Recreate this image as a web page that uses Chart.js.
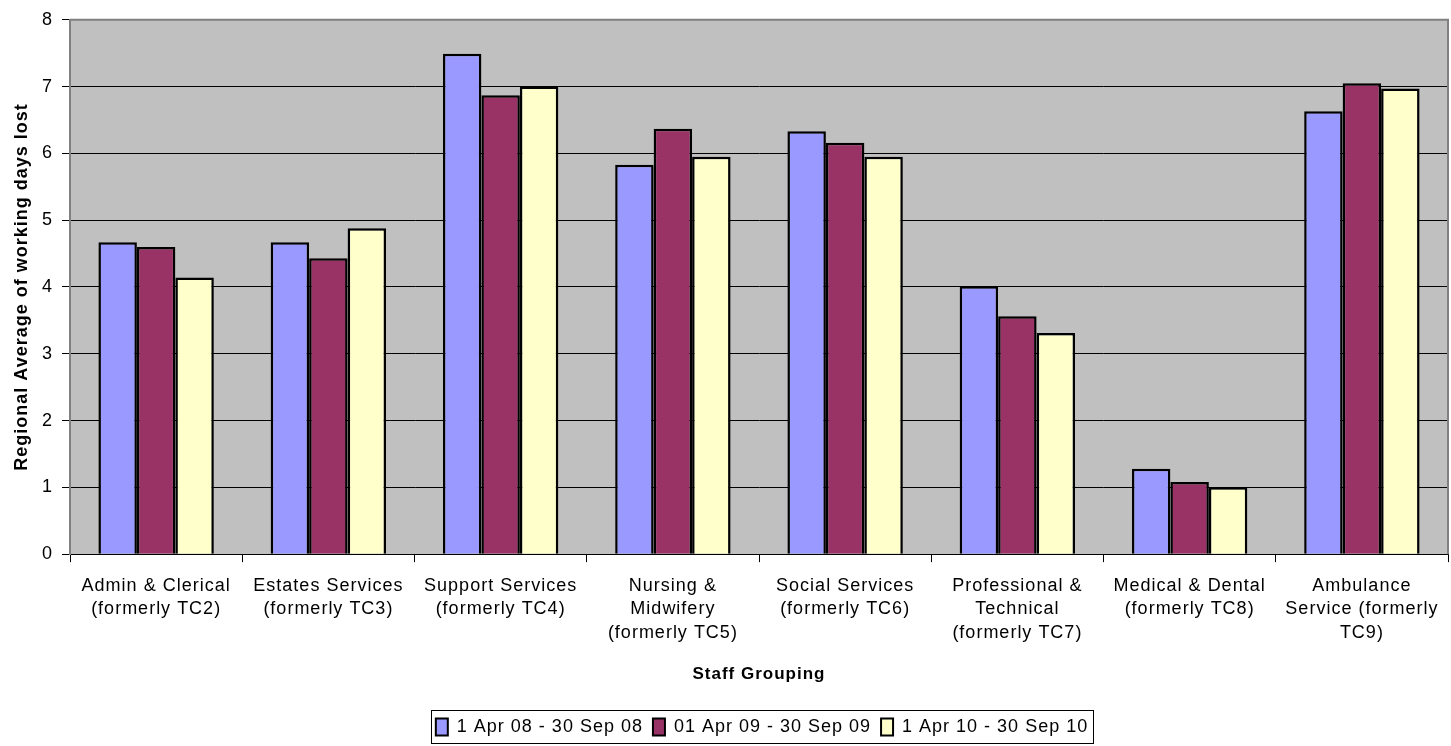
<!DOCTYPE html>
<html>
<head>
<meta charset="utf-8">
<script src="https://cdn.jsdelivr.net/npm/chart.js@4"></script>
<style>
  html, body { margin: 0; padding: 0; background: #fff; }
  #wrap { width: 1451px; height: 746px; }
</style>
</head>
<body>
<div id="wrap"><canvas id="sicknessChart"></canvas></div>
<script>
// Données
const categories = [
    ['Admin & Clerical', '(formerly TC2)'],
    ['Estates Services', '(formerly TC3)'],
    ['Support Services', '(formerly TC4)'],
    ['Nursing &', 'Midwifery', '(formerly TC5)'],
    ['Social Services', '(formerly TC6)'],
    ['Professional &', 'Technical', '(formerly TC7)'],
    ['Medical & Dental', '(formerly TC8)'],
    ['Ambulance', 'Service (formerly', 'TC9)']
];
const seriesNames = ['1 Apr 08 - 30 Sep 08', '01 Apr 09 - 30 Sep 09', '1 Apr 10 - 30 Sep 10'];
const period2008 = [4.67, 4.67, 7.49, 5.83, 6.33, 4.01, 1.28, 6.63];
const period2009 = [4.60, 4.43, 6.87, 6.37, 6.16, 3.56, 1.08, 7.05];
const period2010 = [4.14, 4.88, 7.00, 5.95, 5.95, 3.31, 1.00, 6.97];
const yTicks = [0, 1, 2, 3, 4, 5, 6, 7, 8];

const colors = ['#9999FF', '#993366', '#FFFFCC'];
const FONT = '"Liberation Sans", Arial, sans-serif';

// Espacement des lettres (rendu type Excel) - le contexte est remis à zéro au redimensionnement
const letterSpacing = {
    id: 'letterSpacing',
    beforeUpdate(chart) { chart.ctx.letterSpacing = '1px'; },
    beforeDraw(chart) { chart.ctx.letterSpacing = '1px'; }
};

// Légende centrée sous la zone de tracé
const legendShift = {
    id: 'legendShift',
    afterLayout(chart) {
        const a = chart.chartArea;
        const lg = chart.legend;
        const dx = (a.left + a.right) / 2 - (lg.left + lg.right) / 2 + 3;
        lg.left += dx;
        lg.right += dx;
    }
};

// Fond gris de la zone de tracé + cadres
const plotBackground = {
    id: 'plotBackground',
    beforeDraw(chart) {
        const { ctx, chartArea: a } = chart;
        ctx.save();
        ctx.fillStyle = '#C0C0C0';
        ctx.fillRect(a.left, a.top, a.right - a.left, a.bottom - a.top);
        ctx.restore();
    },
    afterDraw(chart) {
        const { ctx, chartArea: a, legend } = chart;
        ctx.save();
        ctx.strokeStyle = '#808080';
        ctx.lineWidth = 2;
        ctx.beginPath();
        ctx.moveTo(a.left, a.top);
        ctx.lineTo(a.right, a.top);
        ctx.lineTo(a.right, a.bottom);
        ctx.stroke();
        // cadre de la légende
        const boxes = legend.legendHitBoxes;
        if (boxes && boxes.length) {
            const l = Math.min(...boxes.map(b => b.left)) - 5;
            const r = Math.max(...boxes.map(b => b.left + b.width)) + 5;
            const cy = boxes[0].top + boxes[0].height / 2;
            ctx.strokeStyle = '#000';
            ctx.lineWidth = 1;
            ctx.strokeRect(Math.round(l) + 0.5, Math.round(cy - 16.5) + 0.5, Math.round(r - l), 33);
        }
        ctx.restore();
    }
};

new Chart(document.getElementById('sicknessChart'), {
    type: 'bar',
    data: {
        labels: categories,
        datasets: [period2008, period2009, period2010].map((d, i) => ({
            label: seriesNames[i],
            data: d,
            backgroundColor: colors[i],
            borderColor: '#000',
            borderWidth: 2.5,
            borderSkipped: 'bottom',
            categoryPercentage: 0.67,
            barPercentage: 1.0
        }))
    },
    options: {
        responsive: true,
        maintainAspectRatio: false,
        animation: false,
        layout: { padding: { top: 12, right: 3, left: 0, bottom: 0 } },
        plugins: {
            legend: {
                position: 'bottom',
                labels: {
                    color: '#000',
                    font: { family: FONT, size: 18 },
                    boxWidth: 12,
                    boxHeight: 17,
                    padding: 10,
                    generateLabels(chart) {
                        return chart.data.datasets.map((ds, i) => ({
                            text: ds.label,
                            fillStyle: ds.backgroundColor,
                            strokeStyle: '#000',
                            lineWidth: 2,
                            datasetIndex: i
                        }));
                    }
                }
            },
            tooltip: { enabled: false }
        },
        scales: {
            x: {
                grid: { display: true, drawOnChartArea: false, offset: true, color: '#000', tickLength: 8 },
                border: { color: '#000', width: 1 },
                ticks: {
                    color: '#000',
                    font: { family: FONT, size: 18, lineHeight: 1.305 },
                    maxRotation: 0,
                    autoSkip: false,
                    padding: 12
                },
                title: {
                    display: true,
                    text: 'Staff Grouping',
                    color: '#000',
                    font: { family: FONT, size: 17, weight: 'bold' },
                    padding: { top: 8, bottom: 23 }
                }
            },
            y: {
                min: 0,
                max: 8,
                afterBuildTicks(scale) {
                    scale.ticks = yTicks.map(v => ({ value: v }));
                },
                afterFit(scale) { scale.width = 70; },
                grid: { color: '#000', lineWidth: 1, tickLength: 8 },
                border: { color: '#808080', width: 2 },
                ticks: {
                    color: '#000',
                    font: { family: FONT, size: 18 },
                    padding: 9
                },
                title: {
                    display: true,
                    text: 'Regional Average of working days lost',
                    color: '#000',
                    font: { family: FONT, size: 18, weight: 'bold' },
                    padding: { top: 11, bottom: 4 }
                }
            }
        }
    },
    plugins: [letterSpacing, legendShift, plotBackground]
});
</script>
</body>
</html>
